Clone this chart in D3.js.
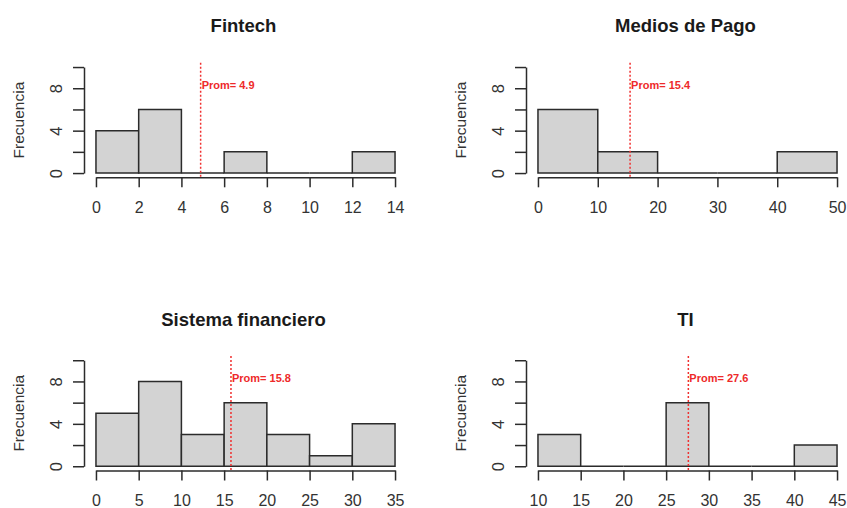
<!DOCTYPE html>
<html>
<head>
<meta charset="utf-8">
<script src="https://cdn.jsdelivr.net/npm/d3@7"></script>
<style>
  body { margin: 0; background: #fff; }
  svg { display: block; font-family: "Liberation Sans", Arial, sans-serif; }
</style>
</head>
<body>
<div id="chart"></div>
<script>
// panel titles, in drawing order (left-right, top-bottom)
const titles = ['Fintech', 'Medios de Pago', 'Sistema financiero', 'TI'];

// histogram bin breaks per panel
const fintechBreaks = [0, 2, 4, 6, 8, 10, 12, 14];
const pagoBreaks = [0, 10, 20, 30, 40, 50];
const sistemaBreaks = [0, 5, 10, 15, 20, 25, 30, 35];
const tiBreaks = [10, 15, 20, 25, 30, 35, 40, 45];

// counts per bin
const fintechCounts = [4, 6, 0, 2, 0, 0, 2];
const pagoCounts = [6, 2, 0, 0, 2];
const sistemaCounts = [5, 8, 3, 6, 3, 1, 4];
const tiCounts = [3, 0, 0, 6, 0, 0, 2];

// mean shown by the dotted red line
const means = [4.9, 15.4, 15.8, 27.6];

const yTicks = [0, 2, 4, 6, 8, 10];
const yLabelled = [0, 4, 8];

const panels = [
    { title: titles[0], breaks: fintechBreaks, counts: fintechCounts, mean: means[0] },
    { title: titles[1], breaks: pagoBreaks, counts: pagoCounts, mean: means[1] },
    { title: titles[2], breaks: sistemaBreaks, counts: sistemaCounts, mean: means[2] },
    { title: titles[3], breaks: tiBreaks, counts: tiCounts, mean: means[3] }
];

const width = 847, height = 508;
const plotW = 323, plotH = 114.5;
const plotLeft = [84, 526];
const plotTop = [62.8, 356];
const ink = '#2b2b2b';

const svg = d3.select('#chart').append('svg')
    .attr('width', width)
    .attr('height', height);

svg.append('rect').attr('width', width).attr('height', height).attr('fill', '#fff');

panels.forEach((p, i) => {
    const left = plotLeft[i % 2];
    const top = plotTop[Math.floor(i / 2)];
    const lo = p.breaks[0], hi = p.breaks[p.breaks.length - 1];
    const ext = (hi - lo) * 0.04;

    // R style: plot region extends 4% past the data range
    const x = d3.scaleLinear().domain([lo - ext, hi + ext]).range([0, plotW]);
    const y = d3.scaleLinear().domain([-0.4, 10.4]).range([plotH, 0]);

    const g = svg.append('g').attr('transform', `translate(${left},${top})`);

    // bars (paths so zero-height bins still show as a line)
    const bins = p.counts.map((c, k) => ({ x0: p.breaks[k], x1: p.breaks[k + 1], n: c }));
    g.append('g')
        .selectAll('path')
        .data(bins)
        .join('path')
        .attr('d', d => `M${x(d.x0)},${y(0)}V${y(d.n)}H${x(d.x1)}V${y(0)}Z`)
        .attr('fill', '#d3d3d3')
        .attr('stroke', ink)
        .attr('stroke-width', 1.5);

    // x axis
    const xa = x.copy().domain([lo, hi]).range([x(lo), x(hi)]);
    const xAxis = g.append('g')
        .attr('transform', `translate(0,${plotH})`)
        .call(d3.axisBottom(xa).tickValues(p.breaks).tickSize(10).tickSizeOuter(0).tickPadding(14));
    xAxis.selectAll('path, line').attr('stroke', ink).attr('stroke-width', 1.5);
    xAxis.selectAll('text')
        .attr('fill', '#333')
        .style('font-size', '16px');

    // y axis
    const ya = y.copy().domain([0, 10]).range([y(0), y(10)]);
    const yAxis = g.append('g')
        .call(d3.axisLeft(ya).tickValues(yTicks).tickSize(11).tickSizeOuter(0)
            .tickFormat(d => yLabelled.includes(d) ? d : ''));
    yAxis.selectAll('path, line').attr('stroke', ink).attr('stroke-width', 1.5);
    yAxis.selectAll('text')
        .attr('x', null)
        .attr('dy', null)
        .attr('text-anchor', 'middle')
        .attr('transform', 'translate(-22,0) rotate(-90)')
        .attr('fill', '#333')
        .style('font-size', '16.5px');

    // y label
    g.append('text')
        .attr('transform', `translate(-60,${plotH / 2}) rotate(-90)`)
        .attr('text-anchor', 'middle')
        .attr('fill', '#333')
        .style('font-size', '15.5px')
        .text('Frecuencia');

    // title
    g.append('text')
        .attr('x', plotW / 2 - 2)
        .attr('y', -30.5)
        .attr('text-anchor', 'middle')
        .attr('fill', '#1a1a1a')
        .style('font-size', '18.5px')
        .style('font-weight', 'bold')
        .text(p.title);

    // mean line
    g.append('line')
        .attr('x1', x(p.mean)).attr('x2', x(p.mean))
        .attr('y1', 0).attr('y2', plotH)
        .attr('stroke', '#f03030')
        .attr('stroke-width', 1.5)
        .attr('stroke-dasharray', '2,2');

    g.append('text')
        .attr('x', x(p.mean) + 1)
        .attr('y', y(8.3))
        .attr('dy', '0.35em')
        .attr('fill', '#ee2a2a')
        .style('font-size', '11px')
        .style('font-weight', 'bold')
        .text(`Prom= ${p.mean}`);
});
</script>
</body>
</html>
